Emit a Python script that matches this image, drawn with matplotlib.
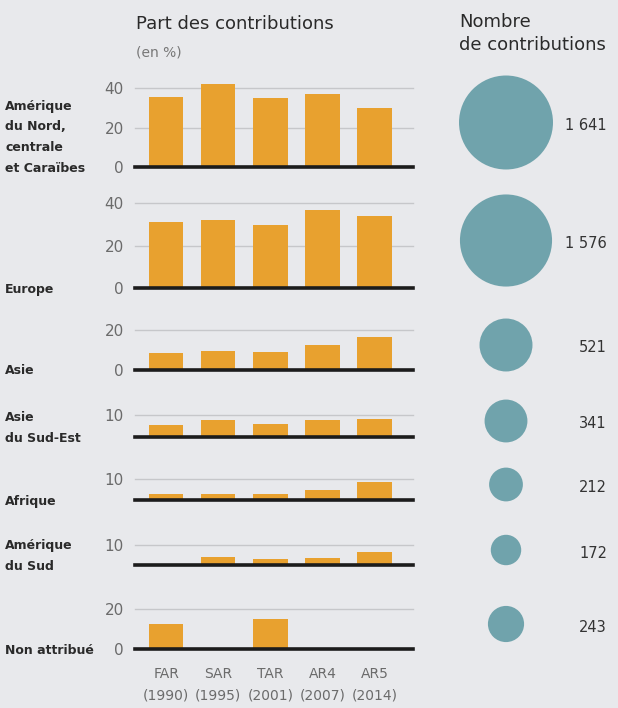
import matplotlib
matplotlib.use("Agg")
import matplotlib.pyplot as plt
from matplotlib.patches import Circle
import numpy as np

# ---------------- data ----------------
reports = ["FAR", "SAR", "TAR", "AR4", "AR5"]
years = ["(1990)", "(1995)", "(2001)", "(2007)", "(2014)"]
regions = ["Amérique\ndu Nord,\ncentrale\net Caraïbes", "Europe", "Asie",
           "Asie\ndu Sud-Est", "Afrique", "Amérique\ndu Sud", "Non attribué"]
share_north_america = [35.5, 42, 35, 37, 30]
share_europe = [31, 32, 29.5, 36.5, 34]
share_asia = [8.5, 9.5, 9, 12.5, 16.5]
share_southeast_asia = [5.5, 7.5, 6, 7.5, 8]
share_africa = [3, 3, 3, 5, 8.5]
share_south_america = [0.5, 4, 3, 3.5, 6.5]
share_unattributed = [12.5, 0, 15, 0, 0]
contributions = [1641, 1576, 521, 341, 212, 172, 243]
count_labels = ["1 641", "1 576", "521", "341", "212", "172", "243"]
axis_max = [40, 40, 20, 10, 10, 10, 20]
tick_values = [[0, 20, 40], [0, 20, 40], [0, 20], [10], [10], [10], [0, 20]]

shares = [share_north_america, share_europe, share_asia, share_southeast_asia,
          share_africa, share_south_america, share_unattributed]

# ---------------- style / layout ----------------
W, H = 618, 708
BG = "#e8e9ec"
ORANGE = "#e8a12f"
TEAL = "#70a3ac"
DARK = "#2a2a2a"
GREY = "#6b6b6b"

panel_top_px = [88, 203, 330, 415, 479, 545, 609]
panel_base_px = [167, 288, 370, 437, 500, 565, 649]
left_px, right_px = 135, 413
circle_x = 506
label_right = 607

plt.rcParams["font.family"] = ["DejaVu Sans"]
fig = plt.figure(figsize=(W / 100, H / 100), dpi=100, facecolor=BG)

x = np.arange(len(reports))
for i, vals in enumerate(shares):
    top, base = panel_top_px[i], panel_base_px[i]
    ax = fig.add_axes([left_px / W, 1 - base / H, (right_px - left_px) / W, (base - top) / H])
    ax.set_facecolor("none")
    ax.set_xlim(-0.6, 4.74)
    ax.set_ylim(0, axis_max[i])
    bars = ax.bar(x, vals, width=0.66, color=ORANGE, zorder=2)
    for b in bars:
        b.set_clip_on(False)
    for t in tick_values[i]:
        if t > 0:
            ax.axhline(t, color="#c6c7ca", lw=1.0, zorder=1, clip_on=False)
    ax.axhline(0, color="#1c1c1c", lw=2.6, zorder=3, clip_on=False)
    for s in ax.spines.values():
        s.set_visible(False)
    ax.set_yticks(tick_values[i])
    ax.set_yticklabels([str(t) for t in tick_values[i]])
    ax.tick_params(axis="y", length=0, pad=8, labelsize=11, labelcolor=GREY)
    if i == len(shares) - 1:
        ax.set_xticks(x)
        ax.set_xticklabels([f"{r}\n{y}" for r, y in zip(reports, years)])
        ax.tick_params(axis="x", length=0, pad=13, labelsize=10, labelcolor=GREY)
        for lab in ax.get_xticklabels():
            lab.set_linespacing(1.7)
    else:
        ax.set_xticks([])

    fig.text(5 / W, 1 - (base + 4.5) / H, regions[i], ha="left", va="baseline",
             fontsize=9, fontweight="bold", color=DARK, linespacing=1.75)

# circles overlay
ov = fig.add_axes([0, 0, 1, 1])
ov.set_xlim(0, W)
ov.set_ylim(H, 0)
ov.axis("off")
ov.set_facecolor("none")
for i, n in enumerate(contributions):
    cy = (panel_top_px[i] + panel_base_px[i]) / 2 - 5
    ov.add_patch(Circle((circle_x, cy), radius=1.16 * np.sqrt(n), color=TEAL, lw=0))
    ov.text(label_right, cy + 3, count_labels[i], ha="right", va="center",
            fontsize=10.5, color="#333333")

# headers
fig.text(136 / W, 1 - 24 / H, "Part des contributions", fontsize=13, va="center", color=DARK)
fig.text(136 / W, 1 - 52 / H, "(en %)", fontsize=10, va="center", color="#777777")
fig.text(459 / W, 1 - 22 / H, "Nombre", fontsize=13, va="center", color=DARK)
fig.text(459 / W, 1 - 45 / H, "de contributions", fontsize=13, va="center", color=DARK)

fig.savefig("out.png", dpi=100, facecolor=BG)
